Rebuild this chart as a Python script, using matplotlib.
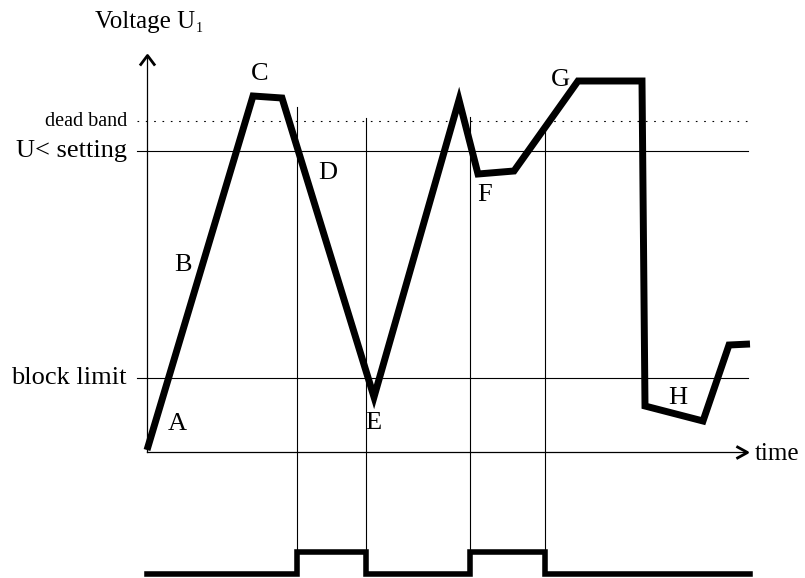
import matplotlib.pyplot as plt
from matplotlib.path import Path

# time / voltage (origin = axis corner, units ~ pixels)
t_volt = [0, 106, 135, 227, 312, 331, 367, 431, 495, 498, 556, 582, 603]
u_volt = [2, 356, 354, 55, 352, 278, 281, 371, 371, 46, 31, 107, 108]

lvl_names = ['dead band', 'U< setting', 'block limit']
lvl_values = [331, 301, 74]
lvl_styles = [(0, (1.5, 6)), '-', '-']
lvl_sizes = [14.5, 19, 19]

# blocking signal switch instants and where the marker lines start
t_switch = [150, 219, 323, 398]
u_marker_top = [345, 334, 335, 322]
sig_low, sig_high = -122, -100

point_names = ['A', 'B', 'C', 'D', 'E', 'F', 'G', 'H']
point_t = [30, 36, 113, 181, 226, 338, 413, 531]
point_u = [28, 187, 378, 279, 29, 257, 372, 54]

plt.rcParams['font.family'] = ['Liberation Serif', 'DejaVu Serif']

fig = plt.figure(figsize=(8.05, 5.78), dpi=100)
ax = fig.add_axes([0, 0, 1, 1])
ax.set_xlim(-147, 658)
ax.set_ylim(-126, 452)
ax.axis('off')

# axes with open chevron heads
up_head = Path([(-0.75, -1.0), (0, 0), (0.75, -1.0)])
right_head = Path([(-1.0, 0.55), (0, 0), (-1.0, -0.55)])
ax.plot([0, 0], [0, 396], color='black', lw=0.9)
ax.plot([0, 600], [0, 0], color='black', lw=0.9)
ax.plot([0], [397], marker=up_head, ms=14.5, mew=2, mec='black', fillstyle='none', ls='none')
ax.plot([600], [0], marker=right_head, ms=16, mew=2, mec='black', fillstyle='none', ls='none')
ax.text(-52, 430, 'Voltage U', fontsize=18, ha='left', va='center')
ax.text(49, 423, '1', fontsize=10, ha='left', va='center')
ax.text(608, -2, 'time', fontsize=18, ha='left', va='center')

# level lines
for name, v, ls, fs in zip(lvl_names, lvl_values, lvl_styles, lvl_sizes):
    ax.plot([-10, 601], [v, v], color='black', lw=0.8, ls=ls)
    ax.text(-20, v, name, fontsize=fs, ha='right', va='center')

# marker lines down to the signal
for ts, top in zip(t_switch, u_marker_top):
    ax.plot([ts, ts], [top, sig_high], color='black', lw=0.8)

# voltage curve
ax.plot(t_volt, u_volt, color='black', lw=5, solid_joinstyle='miter', solid_capstyle='butt')

# blocking signal
sig_t = [0] + t_switch + [603]
sig_v = [sig_low, sig_high, sig_low, sig_high, sig_low, sig_low]
ax.step(sig_t, sig_v, where='post', color='black', lw=4, solid_joinstyle='miter')

for name, pt, pu in zip(point_names, point_t, point_u):
    ax.text(pt, pu, name, fontsize=19, ha='center', va='center')

fig.savefig('out.png', dpi=100)
